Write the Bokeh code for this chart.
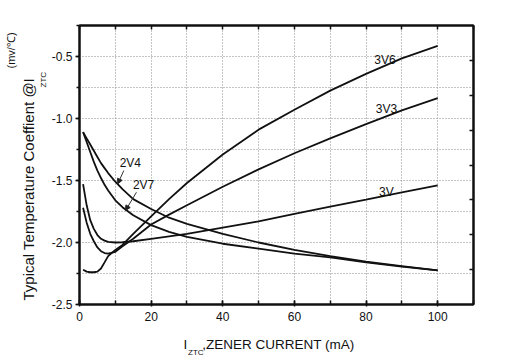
from bokeh.plotting import figure
from bokeh.models import (Range1d, LinearAxis, SingleIntervalTicker, FixedTicker,
                          PrintfTickFormatter, Label, Arrow, NormalHead, Grid, Title,
                          ColumnDataSource)
from bokeh.embed import file_html
from bokeh.resources import INLINE

# ---------------- data ----------------
current = [1, 2, 3, 4, 5, 6, 7, 8, 10, 12, 15, 20, 25, 30, 40, 50, 60, 70, 80, 90, 100]
tc_2v4 = [-1.11, -1.16, -1.21, -1.26, -1.31, -1.36, -1.40, -1.44, -1.51, -1.57, -1.65,
          -1.73, -1.80, -1.85, -1.93, -2.00, -2.06, -2.11, -2.155, -2.19, -2.225]
tc_2v7 = [-1.11, -1.19, -1.27, -1.35, -1.42, -1.48, -1.535, -1.58, -1.66, -1.715, -1.78,
          -1.86, -1.915, -1.955, -2.01, -2.05, -2.09, -2.12, -2.16, -2.195, -2.225]
tc_3v = [-1.53, -1.70, -1.82, -1.89, -1.94, -1.97, -1.985, -1.995, -2.00, -1.998, -1.99,
         -1.97, -1.95, -1.93, -1.88, -1.83, -1.77, -1.71, -1.655, -1.595, -1.54]
tc_3v3 = [-1.72, -1.84, -1.93, -1.99, -2.04, -2.07, -2.085, -2.09, -2.075, -2.03, -1.97,
          -1.855, -1.775, -1.70, -1.55, -1.41, -1.28, -1.16, -1.045, -0.935, -0.835]
tc_3v6 = [-2.22, -2.235, -2.24, -2.24, -2.235, -2.21, -2.16, -2.11, -2.06, -2.02, -1.93,
          -1.79, -1.65, -1.52, -1.29, -1.09, -0.93, -0.775, -0.64, -0.515, -0.415]
series_names = ["2V4", "2V7", "3V", "3V3", "3V6"]
x_title_main = ",ZENER CURRENT (mA)"
y_title_main = "Typical Temperature Coeffient @I"
title_sub = "ZTC"
y_title_unit = "(mv/\u2103)"

src = ColumnDataSource(dict(x=current, v2v4=tc_2v4, v2v7=tc_2v7, v3v=tc_3v,
                            v3v3=tc_3v3, v3v6=tc_3v6))

FONT = "Liberation Sans"
INK = "#111111"
NB = "\u00a0"

p = figure(width=495, height=358, x_range=Range1d(0, 110), y_range=Range1d(-2.5, -0.25),
           output_backend="svg", toolbar_location=None,
           x_axis_location=None, y_axis_location=None,
           min_border_left=79, min_border_right=22, min_border_top=25, min_border_bottom=54)
p.background_fill_color = "white"
p.border_fill_color = "white"
p.outline_line_color = INK
p.outline_line_width = 2
p.grid.visible = False
p.extra_y_ranges = {"r": Range1d(0, 8)}

# grids
p.add_layout(Grid(dimension=0, ticker=SingleIntervalTicker(interval=10),
                  grid_line_color="#8a8a8a", grid_line_dash="1 2", grid_line_width=1))
p.add_layout(Grid(dimension=1, ticker=SingleIntervalTicker(interval=0.25),
                  grid_line_color="#8a8a8a", grid_line_dash="1 2", grid_line_width=1))


def style(ax):
    ax.axis_line_color = INK
    ax.axis_line_width = 2
    ax.major_tick_line_color = INK
    ax.minor_tick_line_color = INK
    ax.major_tick_line_width = 1.5
    ax.minor_tick_line_width = 1.5
    ax.major_label_text_font = FONT
    ax.major_label_text_font_size = "12px"
    ax.major_label_text_color = INK


xb = LinearAxis(ticker=SingleIntervalTicker(interval=20, num_minor_ticks=2))
style(xb)
xb.major_tick_in = 4
xb.major_tick_out = 2
xb.minor_tick_in = 4
xb.minor_tick_out = 0
xb.major_label_standoff = 5
# x title: "I", gap for the subscript, main text (trailing gap centres it as in the original)
xb.axis_label = "I" + NB * 4 + x_title_main + NB * 4
xb.axis_label_text_font = FONT
xb.axis_label_text_font_size = "13.5px"
xb.axis_label_text_font_style = "normal"
xb.axis_label_text_color = INK
xb.axis_label_standoff = 13
p.add_layout(xb, "below")

xt = LinearAxis(ticker=SingleIntervalTicker(interval=10, num_minor_ticks=0))
style(xt)
xt.major_tick_in = 4
xt.major_tick_out = 0
xt.minor_tick_line_color = None
xt.major_label_text_font_size = "0px"
xt.major_label_text_color = None
p.add_layout(xt, "above")

yl = LinearAxis(ticker=SingleIntervalTicker(interval=0.5, num_minor_ticks=2),
                formatter=PrintfTickFormatter(format="%.1f"))
style(yl)
yl.major_tick_in = 0
yl.major_tick_out = 4
yl.minor_tick_in = 0
yl.minor_tick_out = 3
yl.major_label_standoff = 3
p.add_layout(yl, "left")

yr = LinearAxis(y_range_name="r", ticker=FixedTicker(ticks=[1, 2, 3, 4, 5, 6, 7]))
style(yr)
yr.major_tick_in = 4
yr.major_tick_out = 0
yr.minor_tick_line_color = None
yr.major_label_text_font_size = "0px"
yr.major_label_text_color = None
p.add_layout(yr, "right")

for col in ["v2v4", "v2v7", "v3v", "v3v3", "v3v6"]:
    p.line("x", col, source=src, line_color=INK, line_width=1.8)

# curve labels
lab_pos = {"2V4": (14.2, -1.36), "2V7": (17.9, -1.537), "3V": (85.7, -1.59),
           "3V3": (85.7, -0.92), "3V6": (85.3, -0.525)}
for name in series_names:
    lx, ly = lab_pos[name]
    p.add_layout(Label(x=lx, y=ly, text=name, text_font=FONT, text_font_size="12px",
                       text_color=INK, text_align="center", text_baseline="middle"))

p.add_layout(Arrow(end=NormalHead(size=5, fill_color="#222", line_color="#222"),
                   x_start=12.36, y_start=-1.42, x_end=10.69, y_end=-1.527,
                   line_color="#333", line_width=1))
p.add_layout(Arrow(end=NormalHead(size=5, fill_color="#222", line_color="#222"),
                   x_start=15.9, y_start=-1.595, x_end=12.84, y_end=-1.742,
                   line_color="#333", line_width=1))


# subscripts and the y title, placed in side panels
def title(text, size, offset, standoff, valign):
    return Title(text=text, text_font=FONT, text_font_size=size, text_font_style="normal",
                 text_color=INK, align="left", vertical_align=valign, offset=offset,
                 standoff=standoff)


p.add_layout(title(title_sub, "8px", 108.5, -14, "top"), "below")

p.add_layout(title(title_sub, "8px", 217, 2, "bottom"), "left")
p.add_layout(title(y_title_main, "15px", 4, -2, "bottom"), "left")
p.add_layout(title(y_title_unit, "11px", 236, 3, "bottom"), "left")

open("out.html", "w").write(file_html(p, INLINE))
